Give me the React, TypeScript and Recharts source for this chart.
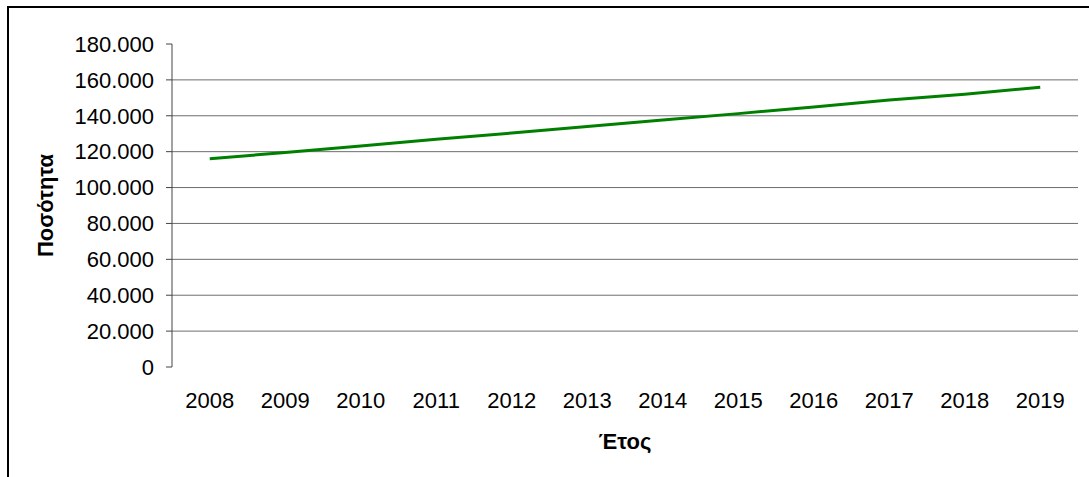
import React from 'react';
import { LineChart, Line, XAxis, YAxis, ReferenceLine, Label } from 'recharts';

const years = ['2008', '2009', '2010', '2011', '2012', '2013', '2014', '2015', '2016', '2017', '2018', '2019'];
const quantities = [116000, 119600, 123200, 126900, 130400, 134000, 137600, 141200, 144900, 148800, 152000, 155900];
const yTicks = [0, 20000, 40000, 60000, 80000, 100000, 120000, 140000, 160000, 180000];
const gridValues = [20000, 40000, 60000, 80000, 100000, 120000, 140000, 160000];

const data = years.map((year, i) => ({ pos: i + 0.5, year, value: quantities[i] }));
const boundaryTicks = years.map((_, i) => i).concat([years.length]);
const centerTicks = years.map((_, i) => i + 0.5);

const FONT = '"Liberation Sans", Arial, sans-serif';

const fmt = (v: number) => (v === 0 ? '0' : v.toLocaleString('en-US').replace(/,/g, '.'));

export default function App() {
  return (
    <div style={{ position: 'absolute', left: 0, top: 0, width: 1089, height: 477, background: '#fff', overflow: 'hidden' }}>
      <div
        style={{
          position: 'absolute',
          left: 7,
          top: 6,
          width: 1200,
          height: 600,
          borderLeft: '2px solid #000',
          borderTop: '2px solid #000',
        }}
      />
      <div style={{ position: 'absolute', left: 0, top: 0 }}>
        <LineChart width={1089} height={477} data={data} margin={{ top: 44, right: 11, left: 0, bottom: 20 }}>
          <XAxis
            xAxisId="grid"
            type="number"
            dataKey="pos"
            domain={[0, years.length]}
            ticks={boundaryTicks}
            tick={false}
            tickSize={6}
            height={0}
            axisLine={{ stroke: '#444', strokeWidth: 1 }}
            tickLine={{ stroke: '#444', strokeWidth: 1 }}
          />
          <XAxis
            xAxisId="labels"
            type="number"
            dataKey="pos"
            domain={[0, years.length]}
            ticks={centerTicks}
            tickFormatter={(v: number) => years[Math.round(v - 0.5)] ?? ''}
            axisLine={false}
            tickLine={false}
            tickSize={0}
            tickMargin={25}
            height={90}
            tick={{ fill: '#000', fontSize: 22, fontFamily: FONT }}
          >
            <Label
              value="Έτος"
              position="insideBottom"
              offset={8}
              fill="#000"
              fontSize={22}
              fontWeight="bold"
              fontFamily={FONT}
            />
          </XAxis>
          <YAxis
            type="number"
            domain={[0, 180000]}
            ticks={yTicks}
            tickFormatter={fmt}
            width={172}
            tickSize={6}
            tickMargin={12}
            axisLine={{ stroke: '#444', strokeWidth: 1 }}
            tickLine={{ stroke: '#444', strokeWidth: 1 }}
            tick={{ fill: '#000', fontSize: 22, fontFamily: FONT }}
          >
            <Label
              value="Ποσότητα"
              angle={-90}
              position="insideLeft"
              offset={45}
              fill="#000"
              fontSize={22}
              fontWeight="bold"
              fontFamily={FONT}
              style={{ textAnchor: 'middle' }}
            />
          </YAxis>
          {gridValues.map((g) => (
            <ReferenceLine key={g} xAxisId="labels" y={g} stroke="#6e6e6e" strokeWidth={1} ifOverflow="visible" />
          ))}
          <Line
            xAxisId="labels"
            type="linear"
            dataKey="value"
            stroke="#008000"
            strokeWidth={3}
            dot={false}
            activeDot={false}
            isAnimationActive={false}
          />
        </LineChart>
      </div>
    </div>
  );
}
